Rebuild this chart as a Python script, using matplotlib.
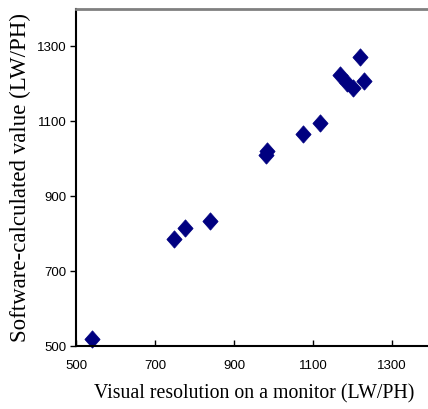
import matplotlib
matplotlib.use('Agg')
import matplotlib.pyplot as plt

# visual resolution (x) vs software-calculated value (y), LW/PH
visual = [540, 748, 777, 839, 980, 983, 1074, 1117, 1168, 1185, 1200, 1219, 1230]
software = [519, 785, 814, 834, 1011, 1020, 1065, 1095, 1225, 1203, 1188, 1272, 1209]
x_ticks = [500, 700, 900, 1100, 1300]
y_ticks = [500, 700, 900, 1100, 1300]

fig = plt.figure(figsize=(4.28, 4.09), dpi=100)
ax = fig.add_axes([0.1776, 0.154, 0.8306, 0.824])

# slightly tall diamond, as in the original
diamond = [(0, -1), (0.88, 0), (0, 1), (-0.88, 0), (0, -1)]
ax.plot(visual, software, linestyle='none', marker=diamond, markersize=12.5,
        color='#000080', markeredgecolor='#000080', markeredgewidth=0.5,
        clip_on=False)

ax.set_xlim(500, 1400)
ax.set_ylim(500, 1400)
ax.set_xticks(x_ticks)
ax.set_yticks(y_ticks)

tick_font = {'family': ['Liberation Sans Narrow', 'Liberation Sans', 'DejaVu Sans'], 'size': 9.5}
ax.set_xticklabels([str(t) for t in x_ticks], fontdict=tick_font)
ax.set_yticklabels([str(t) for t in y_ticks], fontdict=tick_font)
ax.tick_params(axis='x', direction='in', length=4, width=1, pad=10)
ax.tick_params(axis='y', direction='out', length=4, width=1, pad=3)

ax.spines['right'].set_visible(False)
ax.spines['top'].set_color('#808080')
ax.spines['top'].set_linewidth(2)
ax.spines['left'].set_linewidth(1.5)
ax.spines['bottom'].set_linewidth(1.5)

ax.set_xlabel('Visual resolution on a monitor (LW/PH)',
              fontdict={'family': ['Liberation Serif', 'DejaVu Serif'], 'size': 14.3},
              labelpad=9)
ax.set_ylabel('Software-calculated value (LW/PH)',
              fontdict={'family': ['Liberation Serif', 'DejaVu Serif'], 'size': 16.5},
              labelpad=4)

fig.savefig('out.png', dpi=100)
